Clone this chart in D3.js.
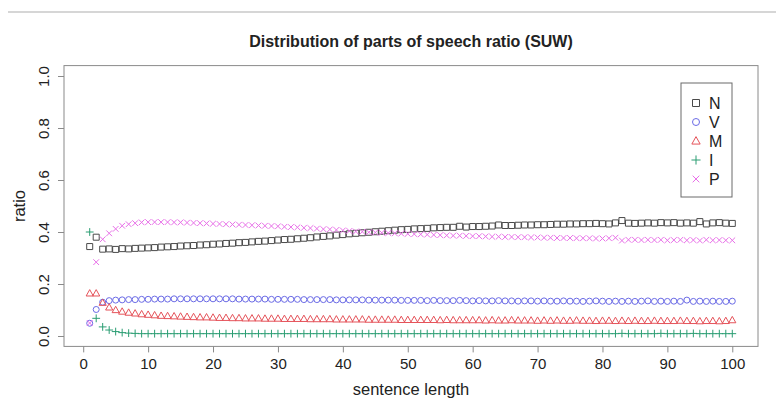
<!DOCTYPE html>
<html>
<head>
<meta charset="utf-8">
<script src="https://cdn.jsdelivr.net/npm/d3@7"></script>
<style>
	body { margin: 0; background: #fff; }
	text { font-family: "Liberation Sans", Arial, sans-serif; fill: #222; }
</style>
</head>
<body>
<svg id="chart"></svg>
<script>
// sentence lengths 1..100
const lengths = [
	1, 2, 3, 4, 5, 6, 7, 8, 9, 10, 11, 12, 13, 14, 15, 16, 17, 18, 19, 20,
	21, 22, 23, 24, 25, 26, 27, 28, 29, 30, 31, 32, 33, 34, 35, 36, 37, 38, 39, 40,
	41, 42, 43, 44, 45, 46, 47, 48, 49, 50, 51, 52, 53, 54, 55, 56, 57, 58, 59, 60,
	61, 62, 63, 64, 65, 66, 67, 68, 69, 70, 71, 72, 73, 74, 75, 76, 77, 78, 79, 80,
	81, 82, 83, 84, 85, 86, 87, 88, 89, 90, 91, 92, 93, 94, 95, 96, 97, 98, 99, 100
];

const valuesN = [
	0.344, 0.380, 0.334, 0.335, 0.333, 0.336, 0.335, 0.337, 0.338, 0.339,
	0.340, 0.342, 0.343, 0.344, 0.346, 0.347, 0.348, 0.350, 0.351, 0.353,
	0.354, 0.356, 0.357, 0.359, 0.360, 0.362, 0.364, 0.365, 0.367, 0.369,
	0.371, 0.372, 0.374, 0.376, 0.378, 0.381, 0.383, 0.385, 0.388, 0.390,
	0.393, 0.395, 0.397, 0.399, 0.401, 0.403, 0.405, 0.407, 0.409, 0.410,
	0.412, 0.413, 0.414, 0.416, 0.417, 0.418, 0.418, 0.422, 0.419, 0.421,
	0.421, 0.422, 0.423, 0.427, 0.425, 0.425, 0.426, 0.427, 0.427, 0.428,
	0.428, 0.429, 0.430, 0.430, 0.431, 0.431, 0.432, 0.432, 0.433, 0.432,
	0.431, 0.435, 0.444, 0.434, 0.433, 0.434, 0.435, 0.434, 0.436, 0.435,
	0.436, 0.434, 0.435, 0.434, 0.440, 0.431, 0.435, 0.436, 0.434, 0.433
];

const valuesV = [
	0.049, 0.102, 0.130, 0.136, 0.138, 0.139, 0.140, 0.140, 0.141, 0.141,
	0.142, 0.142, 0.142, 0.143, 0.143, 0.143, 0.143, 0.143, 0.143, 0.143,
	0.143, 0.143, 0.143, 0.142, 0.142, 0.142, 0.142, 0.142, 0.141, 0.141,
	0.141, 0.141, 0.141, 0.140, 0.140, 0.140, 0.140, 0.140, 0.139, 0.139,
	0.139, 0.139, 0.139, 0.138, 0.138, 0.138, 0.138, 0.138, 0.137, 0.137,
	0.137, 0.137, 0.136, 0.137, 0.136, 0.136, 0.136, 0.137, 0.136, 0.135,
	0.136, 0.135, 0.135, 0.136, 0.135, 0.135, 0.134, 0.135, 0.135, 0.134,
	0.135, 0.134, 0.134, 0.135, 0.134, 0.134, 0.133, 0.134, 0.135, 0.134,
	0.133, 0.134, 0.133, 0.134, 0.133, 0.134, 0.135, 0.133, 0.134, 0.133,
	0.134, 0.133, 0.138, 0.133, 0.134, 0.133, 0.134, 0.133, 0.133, 0.134
];

const valuesM = [
	0.164, 0.164, 0.128, 0.110, 0.100, 0.094, 0.090, 0.087, 0.084, 0.082,
	0.080, 0.078, 0.077, 0.076, 0.075, 0.074, 0.073, 0.072, 0.072, 0.071,
	0.070, 0.070, 0.069, 0.069, 0.068, 0.068, 0.068, 0.067, 0.067, 0.067,
	0.066, 0.066, 0.066, 0.066, 0.065, 0.065, 0.065, 0.065, 0.064, 0.064,
	0.064, 0.064, 0.064, 0.063, 0.063, 0.063, 0.063, 0.063, 0.062, 0.062,
	0.062, 0.062, 0.062, 0.062, 0.061, 0.062, 0.061, 0.061, 0.061, 0.061,
	0.061, 0.060, 0.061, 0.060, 0.060, 0.061, 0.060, 0.060, 0.060, 0.059,
	0.060, 0.059, 0.060, 0.059, 0.059, 0.060, 0.059, 0.059, 0.058, 0.059,
	0.059, 0.058, 0.059, 0.058, 0.059, 0.058, 0.058, 0.059, 0.058, 0.058,
	0.058, 0.059, 0.058, 0.058, 0.057, 0.058, 0.058, 0.057, 0.058, 0.061
];

const valuesI = [
	0.400, 0.068, 0.035, 0.023, 0.017, 0.013, 0.011, 0.010, 0.009, 0.009,
	0.009, 0.009, 0.009, 0.009, 0.009, 0.009, 0.009, 0.009, 0.009, 0.009,
	0.009, 0.009, 0.009, 0.009, 0.009, 0.009, 0.009, 0.009, 0.009, 0.009,
	0.009, 0.009, 0.009, 0.009, 0.009, 0.009, 0.009, 0.009, 0.009, 0.009,
	0.009, 0.009, 0.009, 0.009, 0.009, 0.009, 0.009, 0.009, 0.009, 0.009,
	0.009, 0.009, 0.009, 0.009, 0.009, 0.009, 0.009, 0.009, 0.009, 0.009,
	0.009, 0.009, 0.009, 0.009, 0.009, 0.009, 0.009, 0.009, 0.009, 0.009,
	0.009, 0.009, 0.009, 0.009, 0.009, 0.009, 0.009, 0.009, 0.009, 0.009,
	0.009, 0.009, 0.010, 0.009, 0.009, 0.009, 0.009, 0.009, 0.010, 0.009,
	0.009, 0.009, 0.009, 0.010, 0.009, 0.009, 0.009, 0.009, 0.009, 0.009
];

const valuesP = [
	0.050, 0.284, 0.372, 0.395, 0.412, 0.424, 0.430, 0.434, 0.437, 0.438,
	0.438, 0.438, 0.438, 0.437, 0.437, 0.436, 0.435, 0.434, 0.433, 0.432,
	0.431, 0.430, 0.429, 0.428, 0.427, 0.426, 0.425, 0.424, 0.423, 0.422,
	0.420, 0.419, 0.418, 0.416, 0.415, 0.413, 0.411, 0.410, 0.408, 0.406,
	0.404, 0.402, 0.401, 0.399, 0.398, 0.397, 0.396, 0.395, 0.394, 0.393,
	0.392, 0.391, 0.390, 0.389, 0.388, 0.387, 0.386, 0.386, 0.385, 0.384,
	0.384, 0.383, 0.382, 0.382, 0.381, 0.381, 0.380, 0.380, 0.379, 0.379,
	0.378, 0.378, 0.377, 0.377, 0.377, 0.376, 0.376, 0.376, 0.375, 0.375,
	0.376, 0.378, 0.367, 0.370, 0.370, 0.369, 0.370, 0.369, 0.370, 0.368,
	0.369, 0.370, 0.368, 0.369, 0.367, 0.370, 0.368, 0.369, 0.368, 0.368
];

const seriesNames = ["N", "V", "M", "I", "P"];
const xTicks = [0, 10, 20, 30, 40, 50, 60, 70, 80, 90, 100];
const yTicks = [0, 0.2, 0.4, 0.6, 0.8, 1.0];

function makeChart() {
	let w = 776;
	let h = 398;
	let left = 64, right = 758, top = 65.6, bottom = 346.4;

	let svg = d3.select('#chart')
		.attr('width', w)
		.attr('height', h);

	let series = [
		{ name: "N", values: valuesN, shape: "square", color: "#4a4a4a" },
		{ name: "V", values: valuesV, shape: "circle", color: "#6b6be6" },
		{ name: "M", values: valuesM, shape: "triangle", color: "#e5535a" },
		{ name: "I", values: valuesI, shape: "plus", color: "#2a9d72" },
		{ name: "P", values: valuesP, shape: "cross", color: "#e870e8" }
	];

	// R style axis padding (4%)
	let xScale = d3.scaleLinear().domain([-2.96, 103.96]).range([left, right]);
	let yScale = d3.scaleLinear().domain([-0.04, 1.04]).range([bottom, top]);

	// top separator line
	svg.append('line')
		.attr('x1', 8).attr('x2', w)
		.attr('y1', 12).attr('y2', 12)
		.attr('stroke', '#c8c8c8')
		.attr('stroke-width', 1.5);

	// marker path
	function shapePath(shape, s) {
		switch (shape) {
			case "square": return `M${-s},${-s}H${s}V${s}H${-s}Z`;
			case "circle": return `M${s},0A${s},${s} 0 1,1 ${-s},0A${s},${s} 0 1,1 ${s},0`;
			case "triangle": {
				let r = s * 1.25;
				return `M0,${-r}L${r * 0.95},${r * 0.7}L${-r * 0.95},${r * 0.7}Z`;
			}
			case "plus": {
				let r = s * 1.3;
				return `M${-r},0H${r}M0,${-r}V${r}`;
			}
			case "cross": {
				let r = s * 0.95;
				return `M${-r},${-r}L${r},${r}M${-r},${r}L${r},${-r}`;
			}
		}
	}

	// box
	svg.append('rect')
		.attr('x', left).attr('y', top)
		.attr('width', right - left).attr('height', bottom - top)
		.attr('fill', 'none')
		.attr('stroke', '#8a8a8a')
		.attr('stroke-width', 1);

	// points
	series.forEach(s => {
		svg.append('g')
			.selectAll('path')
			.data(s.values)
			.enter()
			.append('path')
			.attr('transform', (d, i) => `translate(${xScale(lengths[i])},${yScale(d)})`)
			.attr('d', shapePath(s.shape, 3))
			.attr('fill', 'none')
			.attr('stroke', s.color)
			.attr('stroke-width', 1);
	});

	// AXES
	let xAxis = d3.axisBottom(xScale).tickValues(xTicks).tickSize(6).tickPadding(6);
	let yAxis = d3.axisLeft(yScale).tickValues(yTicks).tickSize(6).tickFormat(d3.format('.1f'));

	let gx = svg.append('g')
		.attr('transform', `translate(0, ${bottom})`)
		.call(xAxis);
	gx.select('.domain').remove();
	gx.selectAll('line').attr('stroke', '#8a8a8a');
	gx.selectAll('text')
		.attr('font-size', 15)
		.attr('font-family', '"Liberation Sans", Arial, sans-serif')
		.attr('fill', '#222');

	let gy = svg.append('g')
		.attr('transform', `translate(${left}, 0)`)
		.call(yAxis);
	gy.select('.domain').remove();
	gy.selectAll('line').attr('stroke', '#8a8a8a');
	gy.selectAll('text')
		.attr('font-size', 15)
		.attr('font-family', '"Liberation Sans", Arial, sans-serif')
		.attr('fill', '#222')
		.attr('x', 0).attr('dy', 0)
		.attr('text-anchor', 'middle')
		.attr('transform', 'translate(-15, 0) rotate(-90)');

	// LABELS
	svg.append('text')
		.attr('x', (left + right) / 2)
		.attr('y', 47)
		.attr('text-anchor', 'middle')
		.attr('font-size', 16)
		.attr('font-weight', 'bold')
		.text('Distribution of parts of speech ratio (SUW)');

	svg.append('text')
		.attr('x', (left + right) / 2)
		.attr('y', 395)
		.attr('text-anchor', 'middle')
		.attr('font-size', 16.5)
		.text('sentence length');

	svg.append('text')
		.attr('transform', `translate(25, ${(top + bottom) / 2}) rotate(-90)`)
		.attr('text-anchor', 'middle')
		.attr('font-size', 16.5)
		.text('ratio');

	// legend
	let lg = svg.append('g').attr('transform', 'translate(681, 83)');
	lg.append('rect')
		.attr('width', 51).attr('height', 114)
		.attr('fill', '#fff')
		.attr('stroke', '#6a6a6a');
	series.forEach((s, i) => {
		let yy = 20 + i * 19;
		lg.append('path')
			.attr('transform', `translate(15, ${yy})`)
			.attr('d', shapePath(s.shape, 3.5))
			.attr('fill', 'none')
			.attr('stroke', s.color);
		lg.append('text')
			.attr('x', 28).attr('y', yy + 6)
			.attr('font-size', 16)
			.text(seriesNames[i]);
	});
}

window.onload = function () {
	makeChart();
};
</script>
</body>
</html>
